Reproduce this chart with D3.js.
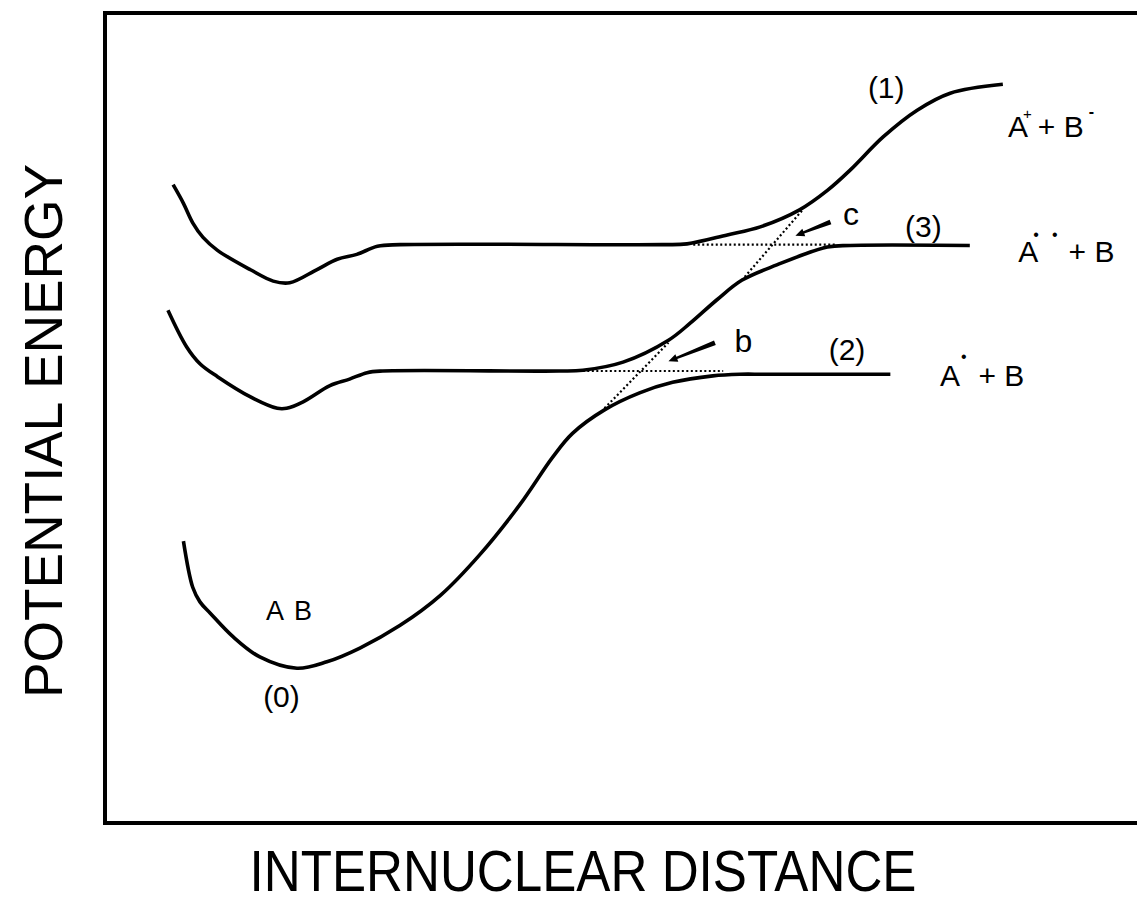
<!DOCTYPE html>
<html>
<head>
<meta charset="utf-8">
<script src="https://cdn.jsdelivr.net/npm/d3@7"></script>
<style>
  body { margin: 0; background: #fff; }
  text { font-family: "Liberation Sans", Arial, Helvetica, sans-serif; fill: #000; }
</style>
</head>
<body>
<div id="wrapper"></div>
<script>
const width = 1137,
    height = 900;

// internuclear distance (arbitrary units) / potential energy (arbitrary units)
const upperX  = [0.66, 0.76, 0.85, 0.95, 1.09, 1.41, 1.63, 1.79, 2.05, 2.25, 2.44, 2.64, 2.86, 5.40, 5.64, 6.03, 6.35, 6.73, 7.00, 7.22, 7.54, 7.87, 8.19, 8.70];
const upperE  = [7.88, 7.65, 7.41, 7.23, 7.07, 6.83, 6.69, 6.67, 6.83, 6.96, 7.02, 7.12, 7.14, 7.14, 7.15, 7.26, 7.36, 7.57, 7.81, 8.06, 8.47, 8.80, 9.01, 9.12];

const middleX = [0.61, 0.79, 0.92, 1.09, 1.41, 1.67, 1.76, 1.92, 2.18, 2.37, 2.54, 2.69, 4.40, 4.63, 5.02, 5.46, 5.67, 5.93, 6.17, 6.51, 7.00, 7.22, 8.38];
const middleE = [6.33, 5.88, 5.67, 5.51, 5.26, 5.12, 5.12, 5.20, 5.40, 5.48, 5.56, 5.58, 5.58, 5.59, 5.69, 5.96, 6.17, 6.46, 6.70, 6.89, 7.11, 7.13, 7.13];

const groundX = [0.76, 0.85, 0.92, 1.02, 1.24, 1.50, 1.86, 2.15, 2.47, 2.86, 3.25, 3.63, 4.02, 4.34, 4.53, 4.84, 5.18, 5.50, 5.89, 6.15, 6.40, 7.61];
const groundE = [3.48, 2.91, 2.73, 2.59, 2.30, 2.05, 1.91, 1.99, 2.16, 2.44, 2.81, 3.31, 3.93, 4.52, 4.81, 5.10, 5.31, 5.44, 5.52, 5.54, 5.54, 5.54];

// diabatic continuations (dotted) at crossings b and c
const dottedX1 = [4.63, 4.84, 5.70, 6.17];
const dottedE1 = [5.58, 5.12, 7.14, 6.70];
const dottedX2 = [5.99, 5.46, 7.09, 6.76];
const dottedE2 = [5.58, 5.93, 7.14, 7.57];

// arrows pointing at crossings
const arrowNames = ["b", "c"];
const arrowTailX = [5.91, 7.03];
const arrowTailE = [5.93, 7.42];
const arrowHeadX = [5.46, 6.69];
const arrowHeadE = [5.70, 7.25];

// curve labels
const labelText = ["(1)", "(3)", "(2)", "(0)", "c", "b"];
const labelX    = [7.57, 7.93, 7.19, 1.71, 7.15, 6.10];
const labelE    = [8.95, 7.23, 5.72, 1.43, 7.38, 5.81];

const svg = d3.select("#wrapper")
    .append("svg")
    .attr("width", width)
    .attr("height", height)
    .attr("viewBox", [0, 0, width, height]);

const x = d3.scaleLinear().domain([0, 10]).range([105, 1137]);
const y = d3.scaleLinear().domain([0, 10]).range([823, 13]);

// frame (right edge runs off the page)
svg.append("path")
    .attr("d", "M" + x(10) + "," + y(10) + "H" + x(0) + "V" + y(0) + "H" + x(10))
    .attr("fill", "none")
    .attr("stroke", "#000")
    .attr("stroke-width", 4);

const line = d3.line()
    .x(d => x(d[0]))
    .y(d => y(d[1]))
    .curve(d3.curveCatmullRom.alpha(0.5));

const curves = [
    d3.zip(upperX, upperE),
    d3.zip(middleX, middleE),
    d3.zip(groundX, groundE)
];

svg.append("g")
    .selectAll("path")
    .data(curves)
    .enter().append("path")
    .attr("d", line)
    .attr("fill", "none")
    .attr("stroke", "#000")
    .attr("stroke-width", 3.6)
    .attr("stroke-linejoin", "round");

svg.append("g")
    .selectAll("line")
    .data(d3.range(dottedX1.length))
    .enter().append("line")
    .attr("x1", i => x(dottedX1[i]))
    .attr("y1", i => y(dottedE1[i]))
    .attr("x2", i => x(dottedX2[i]))
    .attr("y2", i => y(dottedE2[i]))
    .attr("stroke", "#000")
    .attr("stroke-width", 2.2)
    .attr("stroke-dasharray", "2,2.5");

// tapered arrows
svg.append("g")
    .selectAll("path")
    .data(arrowNames.map((n, i) => i))
    .enter().append("path")
    .attr("d", function (i) {
        const x0 = x(arrowTailX[i]), y0 = y(arrowTailE[i]),
            x1 = x(arrowHeadX[i]), y1 = y(arrowHeadE[i]);
        const len = Math.hypot(x1 - x0, y1 - y0),
            ux = (x1 - x0) / len, uy = (y1 - y0) / len,
            nx = -uy, ny = ux;
        const hb = 9, hw = 4, tw = 2.4, sw = 1.2;
        const bx = x1 - ux * hb, by = y1 - uy * hb;
        return "M" + (x0 + nx * tw) + "," + (y0 + ny * tw) +
            "L" + (bx + nx * sw) + "," + (by + ny * sw) +
            "L" + (bx + nx * hw) + "," + (by + ny * hw) +
            "L" + x1 + "," + y1 +
            "L" + (bx - nx * hw) + "," + (by - ny * hw) +
            "L" + (bx - nx * sw) + "," + (by - ny * sw) +
            "L" + (x0 - nx * tw) + "," + (y0 - ny * tw) + "Z";
    })
    .attr("fill", "#000");

svg.append("g")
    .selectAll("text")
    .data(labelText.map((t, i) => i))
    .enter().append("text")
    .attr("x", i => x(labelX[i]))
    .attr("y", i => y(labelE[i]))
    .attr("text-anchor", i => labelText[i].length > 1 ? "middle" : "start")
    .style("font-size", i => labelText[i].length > 1 ? "30px" : "32px")
    .text(i => labelText[i]);

// state labels with superscripts
svg.append("text")
    .attr("x", x(1.56)).attr("y", y(2.51))
    .style("font-size", "27px")
    .style("letter-spacing", "2px")
    .text("A B");

const ion = svg.append("text")
    .attr("x", x(8.75)).attr("y", y(8.47))
    .style("font-size", "30px");
ion.append("tspan").text("A");
ion.append("tspan").attr("dx", -5).attr("dy", -18).style("font-size", "15px").text("+");
ion.append("tspan").attr("dx", 6).attr("dy", 18).text("+ B");
ion.append("tspan").attr("dx", 5).attr("dy", -20).style("font-size", "16px").style("font-weight", "bold").text("-");

const exc2 = svg.append("text")
    .attr("x", x(8.85)).attr("y", y(6.93))
    .style("font-size", "30px");
exc2.append("tspan").text("A");
exc2.append("tspan").attr("dx", -5).attr("dy", -22).style("font-size", "16px").style("letter-spacing", "13px").text("••");
exc2.append("tspan").attr("dx", -2).attr("dy", 22).text("+ B");

const exc1 = svg.append("text")
    .attr("x", x(8.09)).attr("y", y(5.40))
    .style("font-size", "30px");
exc1.append("tspan").text("A");
exc1.append("tspan").attr("dx", 1).attr("dy", -24).style("font-size", "16px").text("•");
exc1.append("tspan").attr("dx", 12).attr("dy", 24).text("+ B");

// axis titles
svg.append("text")
    .attr("transform", "translate(62," + ((y(0) + y(10)) / 2 + 13) + ") rotate(-90)")
    .attr("text-anchor", "middle")
    .attr("textLength", 534)
    .attr("lengthAdjust", "spacingAndGlyphs")
    .style("font-size", "54px")
    .text("POTENTIAL ENERGY");

svg.append("text")
    .attr("x", 583)
    .attr("y", 891)
    .attr("text-anchor", "middle")
    .attr("textLength", 667)
    .attr("lengthAdjust", "spacingAndGlyphs")
    .style("font-size", "58px")
    .text("INTERNUCLEAR DISTANCE");
</script>
</body>
</html>
